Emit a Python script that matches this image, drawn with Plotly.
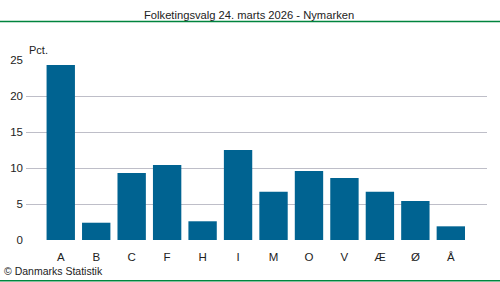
import plotly.graph_objects as go

categories = ["A", "B", "C", "F", "H", "I", "M", "O", "V", "Æ", "Ø", "Å"]
values = [24.3, 2.4, 9.3, 10.4, 2.6, 12.5, 6.7, 9.6, 8.6, 6.7, 5.4, 1.9]
y_ticks = [0, 5, 10, 15, 20, 25]

title = "Folketingsvalg 24. marts 2026 - Nymarken"
font = "Liberation Sans, Arial, sans-serif"

L, R, T, B = 26, 13, 60, 42
W, H = 500, 282
pw, ph = W - L - R, H - T - B

fig = go.Figure(go.Bar(
    x=list(range(len(categories))), y=values,
    marker=dict(color="#006391", line=dict(width=0)),
    width=0.8,
))

fig.update_layout(
    width=W, height=H,
    margin=dict(l=L, r=R, t=T, b=B, autoexpand=False),
    paper_bgcolor="white", plot_bgcolor="white",
    showlegend=False,
    font=dict(family=font, size=11.5, color="#222222"),
    xaxis=dict(
        range=[-0.98, 12.02], tickmode="array",
        tickvals=list(range(len(categories))), ticktext=categories,
        showgrid=False, zeroline=False, showline=False, ticks="",
        ticklabelstandoff=8, automargin=False,
        tickfont=dict(size=11.5, color="#222222"),
    ),
    yaxis=dict(
        range=[0, 25], tickmode="array", tickvals=y_ticks,
        showgrid=True, gridcolor="#BEBEC8", gridwidth=1,
        zeroline=False, showline=False, ticks="",
        ticklabelstandoff=2, automargin=False,
        tickfont=dict(size=11.5, color="#222222"),
    ),
    annotations=[
        dict(text=title, xref="paper", yref="paper",
             x=(249 - L) / pw, y=(T + ph - 15) / ph, xanchor="center", yanchor="middle",
             showarrow=False, font=dict(size=11.2, color="#222222")),
        dict(text="Pct.", xref="paper", yref="paper",
             x=(27 - L) / pw, y=(T + ph - 50) / ph, xanchor="left", yanchor="middle",
             showarrow=False, font=dict(size=11, color="#222222")),
        dict(text="© Danmarks Statistik", xref="paper", yref="paper",
             x=(2 - L) / pw, y=(T + ph - 271) / ph, xanchor="left", yanchor="middle",
             showarrow=False, font=dict(size=10.5, color="#222222")),
    ],
    shapes=[
        dict(type="line", xref="paper", yref="paper",
             x0=-L / pw, x1=1 + R / pw, y0=(T + ph - 21.5) / ph, y1=(T + ph - 21.5) / ph,
             line=dict(color="#00843D", width=1.5)),
        dict(type="line", xref="paper", yref="paper",
             x0=-L / pw, x1=1 + R / pw, y0=(T + ph - 280.7) / ph, y1=(T + ph - 280.7) / ph,
             line=dict(color="#00843D", width=1.5)),
    ],
)

fig.write_html("out.html")
